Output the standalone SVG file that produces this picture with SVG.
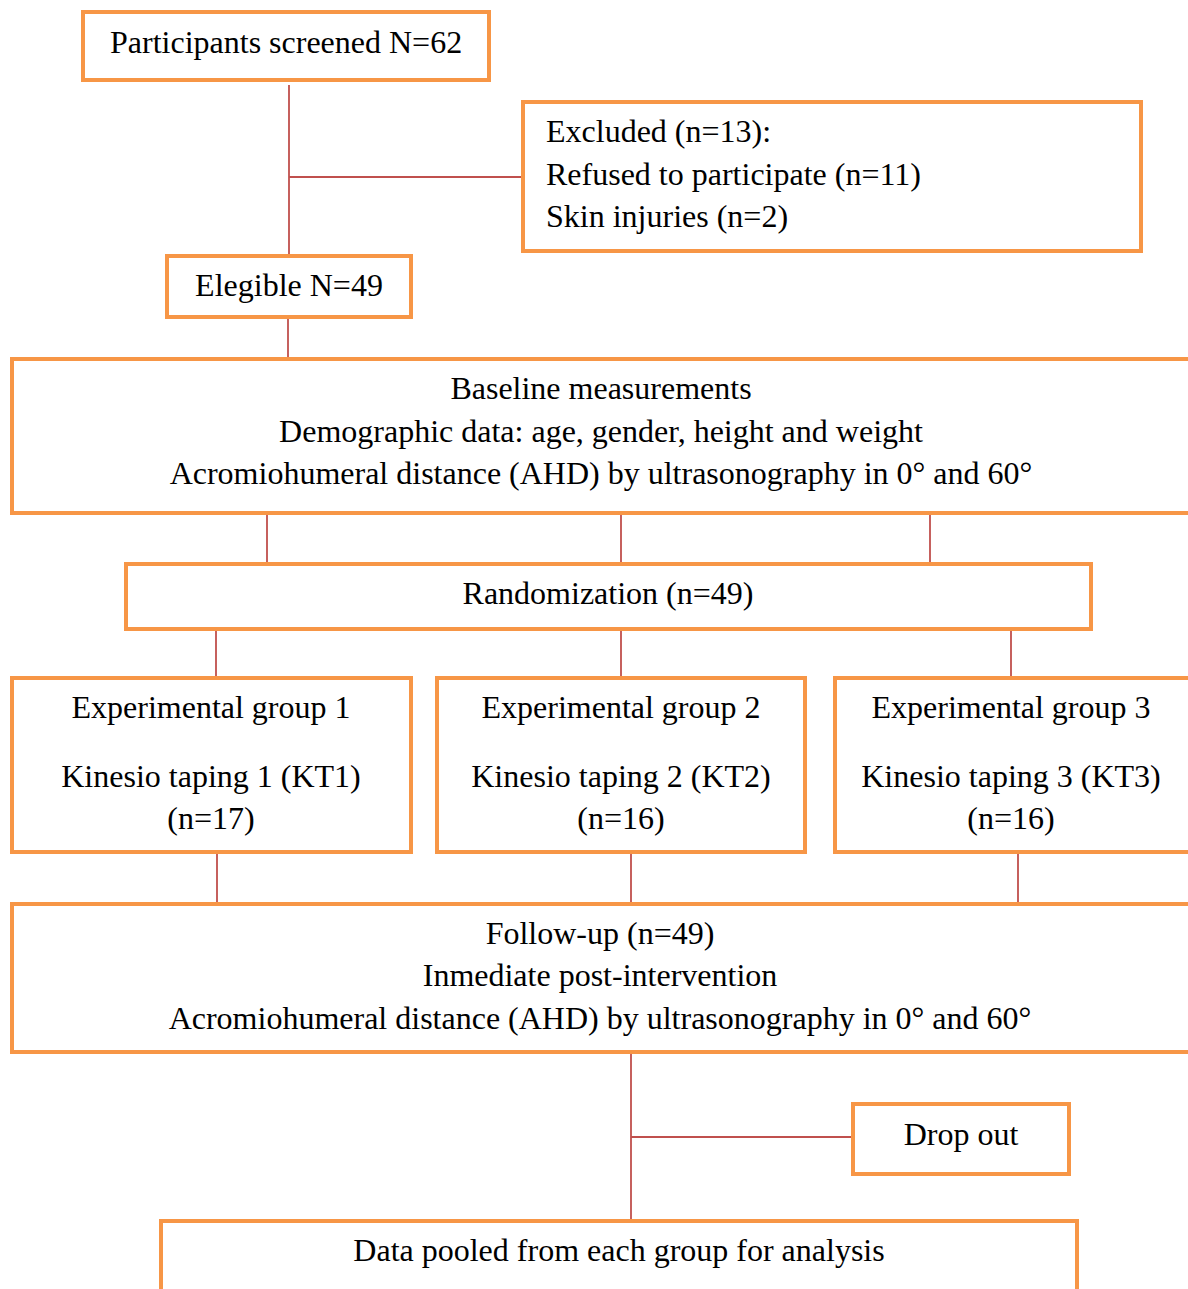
<svg xmlns="http://www.w3.org/2000/svg" width="1188" height="1289" viewBox="0 0 1188 1289">
<style>
.box{fill:#fff;stroke:#F79646;stroke-width:4}
.t{font-family:"Liberation Serif","Times New Roman",serif;font-size:32px;fill:#000}
.c{text-anchor:middle}
.ln{stroke:#C0504D;stroke-width:1.8;fill:none}
</style>
<rect width="1188" height="1289" fill="#fff"/>
<g id="connectors">
<path class="ln" d="M289 85V255M289 177H522"/>
<path class="ln" d="M288 318V358"/>
<path class="ln" d="M267 514V563M621 514V563M930 514V563"/>
<path class="ln" d="M216 630V677M621 630V677M1011 630V677"/>
<path class="ln" d="M217 853V903M631 853V903M1018 853V903"/>
<path class="ln" d="M631 1053V1220M631 1137H853"/>
</g>
<g id="screened"><rect class="box" x="83" y="12" width="406" height="68"/><text class="t" x="110" y="53">Participants screened N=62</text></g>
<g id="excluded"><rect class="box" x="523" y="102" width="618" height="149"/>
<text class="t" x="546" y="142">Excluded (n=13):</text>
<text class="t" x="546" y="185">Refused to participate (n=11)</text>
<text class="t" x="546" y="227">Skin injuries (n=2)</text></g>
<g id="eligible"><rect class="box" x="167" y="256" width="244" height="61"/><text class="t c" x="289" y="296">Elegible N=49</text></g>
<g id="baseline"><rect class="box" x="12" y="359" width="1180" height="154"/>
<text class="t c" x="601" y="399">Baseline measurements</text>
<text class="t c" x="601" y="442">Demographic data: age, gender, height and weight</text>
<text class="t c" x="601" y="484">Acromiohumeral distance (AHD) by ultrasonography in 0° and 60°</text></g>
<g id="randomization"><rect class="box" x="126" y="564" width="965" height="65"/><text class="t c" x="608" y="604">Randomization (n=49)</text></g>
<g id="group1"><rect class="box" x="12" y="678" width="399" height="174"/>
<text class="t c" x="211" y="718">Experimental group 1</text>
<text class="t c" x="211" y="787">Kinesio taping 1 (KT1)</text>
<text class="t c" x="211" y="829">(n=17)</text></g>
<g id="group2"><rect class="box" x="437" y="678" width="368" height="174"/>
<text class="t c" x="621" y="718">Experimental group 2</text>
<text class="t c" x="621" y="787">Kinesio taping 2 (KT2)</text>
<text class="t c" x="621" y="829">(n=16)</text></g>
<g id="group3"><rect class="box" x="835" y="678" width="357" height="174"/>
<text class="t c" x="1011" y="718">Experimental group 3</text>
<text class="t c" x="1011" y="787">Kinesio taping 3 (KT3)</text>
<text class="t c" x="1011" y="829">(n=16)</text></g>
<g id="followup"><rect class="box" x="12" y="904" width="1180" height="148"/>
<text class="t c" x="600" y="944">Follow-up (n=49)</text>
<text class="t c" x="600" y="986">Inmediate post-intervention</text>
<text class="t c" x="600" y="1029">Acromiohumeral distance (AHD) by ultrasonography in 0° and 60°</text></g>
<g id="dropout"><rect class="box" x="853" y="1104" width="216" height="70"/><text class="t c" x="961" y="1145">Drop out</text></g>
<g id="pooled"><rect class="box" x="161" y="1221" width="916" height="80"/><text class="t c" x="619" y="1261">Data pooled from each group for analysis</text></g>
</svg>
